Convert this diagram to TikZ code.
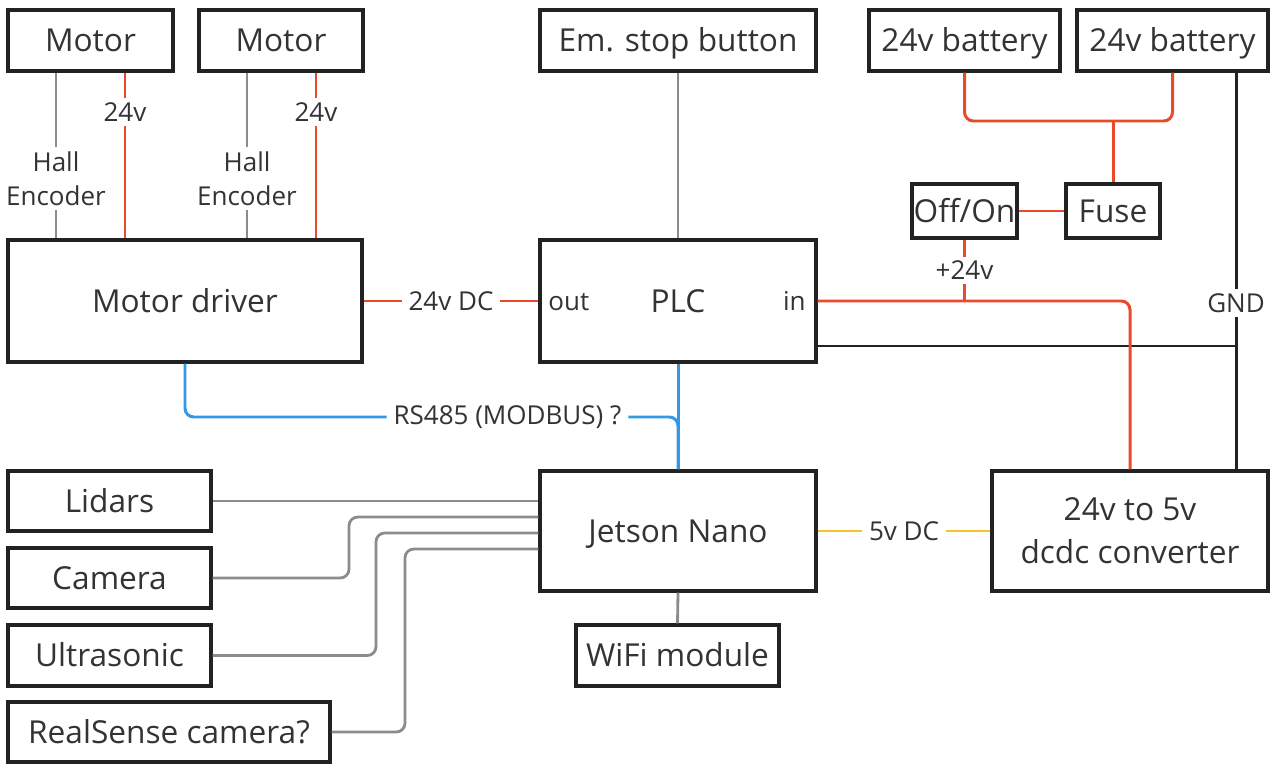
\documentclass[tikz,border=0pt]{standalone}
\usepackage{fontspec}
\setmainfont{Open Sans}
\usetikzlibrary{calc}

\definecolor{wred}{HTML}{EA4A2C}
\definecolor{wblue}{HTML}{3399E6}
\definecolor{wyellow}{HTML}{F5C22B}
\definecolor{wgray}{HTML}{8C8C8C}
\definecolor{wblack}{HTML}{222222}
\definecolor{txt}{HTML}{333333}

\begin{document}
\begin{tikzpicture}[x=0.02cm,y=-0.02cm,
    box/.style={draw=wblack,line width=1.9pt,inner sep=0pt,text=txt,
        font=\fontsize{18}{24.4}\selectfont,align=center},
    one/.style={text height=17pt,text depth=4.15pt},
    onel/.style={text height=14pt,text depth=3.43pt},
    sz/.style 2 args={minimum width=#1*0.02cm,minimum height=#2*0.02cm},
    lbl/.style={fill=white,inner xsep=4pt,inner ysep=2.5pt,text=txt,
        font=\fontsize{14.8}{19.8}\selectfont,align=center},
    rwire/.style={draw=wred,line width=1.7pt},
    gwire/.style={draw=wgray,line width=1.6pt},
    bwire/.style={draw=wblue,line width=1.7pt},
    ywire/.style={draw=wyellow,line width=1.7pt},
    kwire/.style={draw=wblack,line width=1.7pt}]
    \useasboundingbox (0,0) rectangle (1280,776);

    %blocks
    \node[box,one,sz={165}{61}] (motorA) at (90.5,40.5) {Motor};
    \node[box,one,sz={164}{61}] (motorB) at (281,40.5) {Motor};
    \node[box,one,sz={354}{122}] (driver) at (185,301) {Motor driver};
    \node[box,one,sz={276}{61}] (estop) at (678,40.5) {Em. stop button};
    \node[box,one,sz={276}{122}] (plc) at (678,301) {PLC};
    \node[box,one,sz={191}{61}] (batA) at (964.5,40.5) {24v battery};
    \node[box,one,sz={191}{61}] (batB) at (1172.5,40.5) {24v battery};
    \node[box,one,sz={105}{54}] (switch) at (964.5,211) {Off/On};
    \node[box,one,sz={94}{54}] (fuse) at (1113,211) {Fuse};
    \node[box,one,sz={276}{120}] (jetson) at (678,531) {Jetson Nano};
    \node[box,one,sz={203}{61}] (wifi) at (677.5,655.5) {WiFi module};
    \node[box,sz={276}{120}] (dcdc) at (1130,531) {24v to 5v\\dcdc converter};
    \node[box,one,sz={203}{60}] (lidars) at (109.5,501) {Lidars};
    \node[box,one,sz={203}{60}] (camera) at (109.5,578) {Camera};
    \node[box,one,sz={203}{61}] (ultra) at (109.5,655.5) {Ultrasonic};
    \node[box,one,sz={322}{60}] (realsense) at (169,732) {RealSense camera?};
    \node[lbl,onel,fill=none,anchor=west] (out) at (541,301) {out};
    \node[lbl,onel,fill=none,anchor=east] (in) at (813,301) {in};

    %motors
    \draw[gwire] (motorA.south -| 56,0) -- node[lbl,pos=0.64] (hallA) {Hall\\Encoder} (driver.north -| 56,0);
    \draw[rwire] (motorA.south -| 125,0) -- node[lbl,pos=0.237] (vA) {24v} (driver.north -| 125,0);
    \draw[gwire] (motorB.south -| 247,0) -- node[lbl,pos=0.64] (hallB) {Hall\\Encoder} (driver.north -| 247,0);
    \draw[rwire] (motorB.south -| 316,0) -- node[lbl,pos=0.237] (vB) {24v} (driver.north -| 316,0);

    %ground
    \coordinate (jgnd) at (1236,346);
    \draw[kwire] (batB.south -| jgnd) -- node[lbl,pos=0.58] (gnd) {GND} (dcdc.north -| jgnd);
    \draw[kwire] (plc.east |- jgnd) -- (jgnd);

    %power
    \draw[rwire] (driver.east) -- node[lbl] (vdc) {24v DC} (plc.west);
    \draw[rwire,rounded corners=5pt] (plc.east) -| (dcdc.north);
    \coordinate (j24) at (switch.south |- plc.east);
    \draw[rwire] (switch.south) -- node[lbl] (v24) {+24v} (j24);
    \coordinate (jbat) at (fuse.north |- 0,121);
    \draw[rwire,rounded corners=5pt] (batA.south) |- (jbat) -| (batB.south);
    \draw[rwire] (jbat) -- (fuse.north);
    \draw[rwire] (fuse.west) -- (switch.east);
    \draw[ywire] (jetson.east) -- node[lbl] (v5) {5v DC} (dcdc.west);

    %signals
    \draw[gwire] (estop.south) -- (plc.north);
    \draw[bwire] (plc.south) -- (jetson.north);
    \coordinate (jrs) at (plc.south |- 0,417);
    \draw[bwire,rounded corners=5pt] (driver.south) |- node[lbl,pos=0.827] (rs) {RS485 (MODBUS) ?} (jrs) -- (jetson.north);
    \draw[gwire] (jetson.south) -- (wifi.north);

    %sensors
    \draw[gwire] (lidars.east) -- (jetson.west |- lidars.east);
    \draw[gwire,rounded corners=5pt] (camera.east) -| (349,517) -- (jetson.west |- 0,517);
    \draw[gwire,rounded corners=5pt] (ultra.east) -| (376,533) -- (jetson.west |- 0,533);
    \draw[gwire,rounded corners=5pt] (realsense.east) -| (405,549) -- (jetson.west |- 0,549);
\end{tikzpicture}
\end{document}
